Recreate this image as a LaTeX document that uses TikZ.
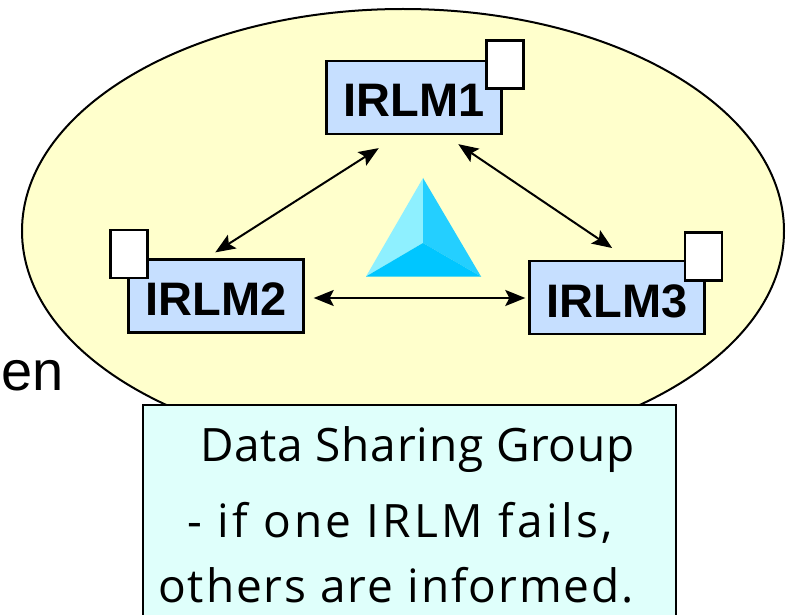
\documentclass[tikz,border=0pt]{standalone}
\usepackage{fontspec}
\setmainfont{Liberation Sans}
\newfontfamily\notefont{Open Sans}
\usetikzlibrary{arrows.meta,calc}
\definecolor{ellfill}{HTML}{FFFFCC}
\definecolor{boxfill}{HTML}{C6DFFF}
\definecolor{notefill}{HTML}{DFFFFB}
\definecolor{triL}{HTML}{8EF0FF}
\definecolor{triR}{HTML}{24CFFF}
\definecolor{triB}{HTML}{00C6FF}
\tikzset{
  irlm/.style={draw=black,line width=2.4pt,fill=boxfill,minimum width=175pt,minimum height=73pt,inner sep=0pt,text height=39pt,text depth=0pt,font=\fontsize{47}{47}\selectfont\bfseries},
  flag/.style={draw=black,line width=2.4pt,fill=white,minimum width=37pt,minimum height=48pt,inner sep=0pt},
  link/.style={line width=2pt,{Stealth[length=20pt,width=16pt,inset=4pt]}-{Stealth[length=20pt,width=16pt,inset=4pt]}},
  noteline/.style={anchor=base west,inner sep=0pt,font=\notefont\fontsize{46}{46}\selectfont}
}
\begin{document}
\begin{tikzpicture}[x=1pt,y=-1pt]
\useasboundingbox (0,0) rectangle (790,615);
\fill[white] (0,0) rectangle (790,615);
\node[anchor=base west,inner sep=0pt,font=\fontsize{56}{56}\selectfont] (en) at (1,390) {en};
\draw[line width=2pt,fill=ellfill] (403,231) ellipse [x radius=381pt,y radius=222pt];
\node[irlm] (n1) at (414,97.5) {IRLM1};
\node[irlm] (n2) at (216,296) {IRLM2};
\node[irlm] (n3) at (617,297.5) {IRLM3};
\node[flag] (f1) at (505,64.5) {};
\node[flag] (f2) at (129,254) {};
\node[flag] (f3) at (703.5,256.5) {};
\draw[link,shorten <=24pt,shorten >=11pt] ([xshift=-15pt]n1.south) -- ([xshift=-10pt]n2.north);
\draw[link,shorten <=16pt,shorten >=21pt] ([xshift=31pt]n1.south) -- ([xshift=12.6pt]n3.north);
\draw[link,shorten <=9pt,shorten >=3pt] (n2.east |- 0,298) -- (n3.west |- 0,298);
\coordinate (ta) at (423,178);
\coordinate (tl) at (366,276.5);
\coordinate (tr) at (481,276.5);
\coordinate (tc) at (423,243);
\fill[triL] (ta) -- (tl) -- (tc) -- cycle;
\fill[triR] (ta) -- (tr) -- (tc) -- cycle;
\fill[triB] (tl) -- (tr) -- (tc) -- cycle;
\draw[line width=2.4pt,fill=notefill] (143,405) rectangle (676,630);
\node[noteline] (l1) at (200,461) {\addfontfeature{LetterSpace=1.6}Data Sharing Group};
\node[noteline] (l2) at (187,537) {\addfontfeature{LetterSpace=7.2}- if one IRLM fails,};
\node[noteline] (l3) at (158,602) {\addfontfeature{LetterSpace=4.2}others are informed.};
\end{tikzpicture}
\end{document}
